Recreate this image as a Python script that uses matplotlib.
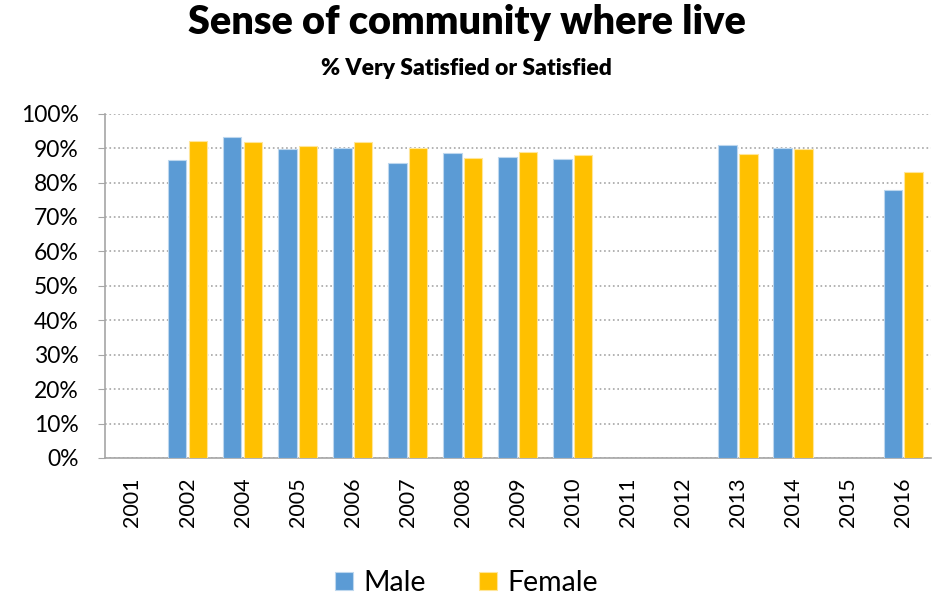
import numpy as np
import matplotlib
matplotlib.use('Agg')
import matplotlib.pyplot as plt
from matplotlib.ticker import PercentFormatter

plt.rcParams['font.family'] = ['Lato', 'DejaVu Sans']

years = ['2001', '2002', '2004', '2005', '2006', '2007', '2008', '2009',
         '2010', '2011', '2012', '2013', '2014', '2015', '2016']
male = [np.nan, 86.6, 93.2, 89.6, 90.1, 85.8, 88.5, 87.4, 86.7,
        np.nan, np.nan, 90.8, 90.1, np.nan, 77.8]
female = [np.nan, 92.2, 91.8, 90.6, 91.7, 89.9, 87.0, 89.0, 88.1,
          np.nan, np.nan, 88.4, 89.6, np.nan, 83.1]

fig = plt.figure(figsize=(9.33, 6.03), dpi=100)
ax = fig.add_axes([0.1125, 0.2405, 0.885, 0.571])

x = np.arange(len(years))
w = 0.336
gap = 0.04
ax.bar(x - (w + gap) / 2, male, w, color='#5B9BD5', edgecolor='#BDD7EE',
       linewidth=0.8, label='Male', zorder=3)
ax.bar(x + (w + gap) / 2, female, w, color='#FFC000', edgecolor='#FFE699',
       linewidth=0.8, label='Female', zorder=3)

ax.set_xlim(-0.5, len(years) - 0.5)
ax.set_ylim(0, 100)
ax.set_yticks(np.arange(0, 101, 10))
ax.yaxis.set_major_formatter(PercentFormatter(decimals=0))
ax.set_xticks(x)
ax.set_xticklabels(years, rotation=90, fontsize=15.5)
ax.tick_params(axis='y', labelsize=16.5, length=5, color='#A6A6A6', pad=14)
ax.tick_params(axis='x', length=0, pad=14)
ax.grid(axis='y', linestyle=':', color='#A6A6A6', linewidth=1.2, zorder=0)

for s in ['top', 'right']:
    ax.spines[s].set_visible(False)
for s in ['left', 'bottom']:
    ax.spines[s].set_color('#A6A6A6')
    ax.spines[s].set_linewidth(1.2)

fig.text(0.5, 0.962, 'Sense of community where live', ha='center', va='center',
         fontsize=28.5, fontweight='heavy')
fig.text(0.5, 0.887, '% Very Satisfied or Satisfied', ha='center', va='center',
         fontsize=16.5, fontweight='heavy')

fig.legend(loc='center', bbox_to_anchor=(0.5, 0.033), ncol=2, frameon=False,
           fontsize=20.5, handlelength=0.62, handleheight=0.62, columnspacing=1.9,
           handletextpad=0.35)

fig.savefig('out.png', dpi=100)
